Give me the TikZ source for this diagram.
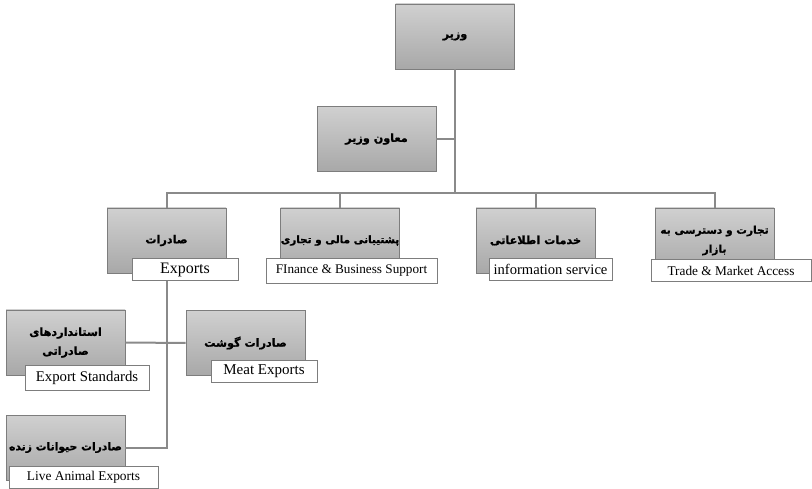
\documentclass[tikz,border=0pt]{standalone}
\usepackage{fontspec}
\setmainfont{Liberation Serif}
\newfontfamily\persian[Script=Arabic, BoldFeatures={FakeBold=1.2}]{DejaVu Sans}
\TeXXeTstate=1
\usetikzlibrary{positioning}

\definecolor{boxtop}{RGB}{208,208,208}
\definecolor{boxbottom}{RGB}{168,168,168}
\definecolor{boxline}{RGB}{125,125,125}
\definecolor{wirecol}{RGB}{138,138,138}

\newcommand{\fa}[1]{\beginR #1\endR}

\tikzset{
    unit/.style={draw=boxline, line width=0.8pt, top color=boxtop, bottom color=boxbottom,
        minimum width=119, minimum height=65, inner sep=0pt, align=center,
        font=\persian\bfseries\fontsize{11.2}{19}\selectfont},
    caption/.style={draw=boxline, line width=0.8pt, fill=white, minimum height=22,
        inner sep=2pt},
    wire/.style={draw=wirecol, line width=2pt}
}

\begin{document}
\begin{tikzpicture}[x=1pt, y=-1pt]
    \useasboundingbox (0,0) rectangle (812,489);

    % gray boxes
    \node[unit] (wazir) at (455,36.5) {\fa{وزیر}};
    \node[unit] (moavin) at (376.5,139) {\fa{معاون وزیر}};
    \node[unit] (sadirat) at (166.5,240.5) {\fa{صادرات}};
    \node[unit, font=\persian\bfseries\fontsize{10.4}{19}\selectfont] (poshtibani) at (340,240.5) {\fa{پشتیبانی مالی و تجاری}};
    \node[unit] (khadamat) at (535.5,240.5) {\fa{خدمات اطلاعاتی}};
    \node[unit, font=\persian\bfseries\fontsize{10.6}{19}\selectfont] (tejarat) at (714.5,240.5) {\fa{تجارت و دسترسی به}\\\fa{بازار}};
    \node[unit] (standard) at (65.5,342.5) {\fa{استانداردهای}\\\fa{صادراتی}};
    \node[unit] (goosht) at (245.5,343) {\fa{صادرات گوشت}};
    \node[unit, font=\persian\bfseries\fontsize{10.8}{19}\selectfont] (zende) at (65.5,447.5) {\fa{صادرات حیوانات زنده}};

    % connectors
    \coordinate (bus) at (455,193);
    \draw[wire] (wazir.south) -- (bus);
    \draw[wire] (moavin.east) -- (moavin.east -| wazir.south);
    \draw[wire] (sadirat.north) |- (bus) -| (tejarat.north);
    \draw[wire] (poshtibani.north) -- (poshtibani.north |- bus);
    \draw[wire] (khadamat.north) -- (khadamat.north |- bus);
    \draw[wire] (sadirat.south) |- (zende.east);
    \draw[wire] (standard.east) -- (goosht.west);

    % english captions
    \node[caption, minimum width=106, font=\fontsize{16}{18}\selectfont] (sadiratEn) at (185,269.5) {Exports};
    \node[caption, minimum width=171, minimum height=25, font=\fontsize{13.2}{15}\selectfont] (poshtibaniEn) at (351.5,270.5) {FInance \& Business Support};
    \node[caption, minimum width=123, font=\fontsize{14.6}{16}\selectfont] (khadamatEn) at (550.5,269.5) {information service};
    \node[caption, minimum width=160, font=\fontsize{13.3}{15}\selectfont] (tejaratEn) at (731,270.5) {Trade \& Market Access};
    \node[caption, minimum width=124, minimum height=25, font=\fontsize{14.8}{16}\selectfont] (standardEn) at (87,378) {Export Standards};
    \node[caption, minimum width=106, font=\fontsize{15}{17}\selectfont] (gooshtEn) at (264,371.5) {Meat Exports};
    \node[caption, minimum width=149, font=\fontsize{13.4}{15}\selectfont] (zendeEn) at (83.5,477.5) {Live Animal Exports};
\end{tikzpicture}
\end{document}
